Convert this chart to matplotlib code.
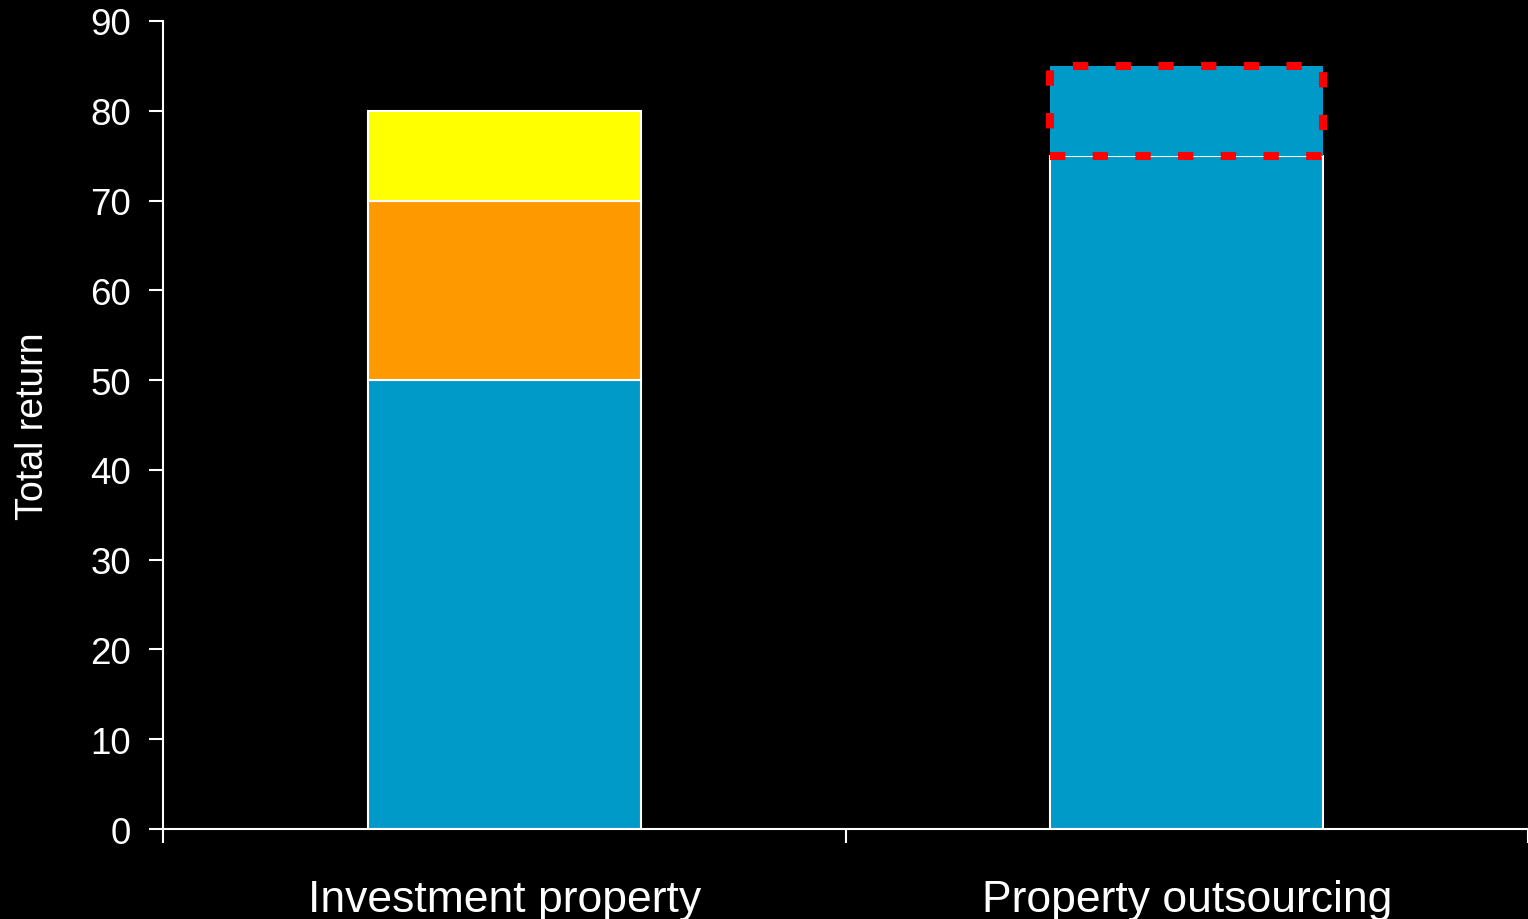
import matplotlib.pyplot as plt

plt.rcParams['font.family'] = ['Liberation Sans', 'DejaVu Sans']

categories = ['Investment property', 'Property outsourcing']
base = [50, 75]
middle = [20, 0]
top = [10, 0]
extra = [0, 10]   # dashed highlight on the second bar

blue = '#009AC8'
orange = '#FF9900'
yellow = '#FFFF00'

fig = plt.figure(figsize=(15.28, 9.2), dpi=100, facecolor='black')
ax = fig.add_axes([0.1067, 0.0978, 0.8933, 0.8783])
ax.set_facecolor('black')

x = [0, 1]
w = 0.4
ax.bar(x, base, w, color=blue, edgecolor='white', linewidth=1.5)
ax.bar(x[0], middle[0], w, bottom=base[0], color=orange, edgecolor='white', linewidth=1.5)
ax.bar(x[0], top[0], w, bottom=base[0] + middle[0], color=yellow, edgecolor='white', linewidth=1.5)
ax.bar(x[1], extra[1], w, bottom=base[1], color=blue, edgecolor='red',
       linewidth=5.8, linestyle=(0, (1.9, 3.4)))

ax.set_xlim(-0.5, 1.5)
ax.set_ylim(0, 90)
ax.set_yticks(range(0, 91, 10))

ax.set_xticks(x)
ax.set_xticklabels(categories, fontsize=32, color='white')
ax.set_xticks([-0.5, 0.5, 1.5], minor=True)
ax.tick_params(axis='x', which='major', length=0, pad=36)
ax.tick_params(axis='x', which='minor', length=10, width=1.5, color='white', direction='out')
ax.tick_params(axis='y', length=10, width=1.5, color='white', labelcolor='white', labelsize=26.5, pad=13)

ax.set_ylabel('Total return', fontsize=27, color='white', labelpad=28)

for s in ['top', 'right']:
    ax.spines[s].set_visible(False)
for s in ['left', 'bottom']:
    ax.spines[s].set_color('white')
    ax.spines[s].set_linewidth(1.5)

fig.savefig('out.png', dpi=100, facecolor='black')
